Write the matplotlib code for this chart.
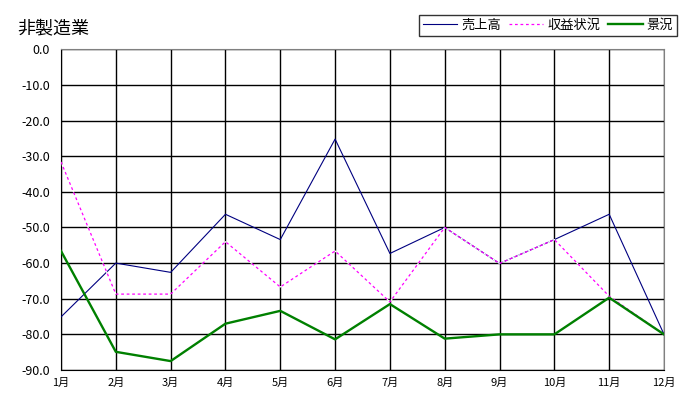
import matplotlib
matplotlib.use("Agg")
import matplotlib.pyplot as plt

plt.rcParams['font.family'] = ['Noto Sans CJK JP', 'DejaVu Sans']
plt.rcParams['axes.unicode_minus'] = False

# データ
months = ['1月', '2月', '3月', '4月', '5月', '6月', '7月', '8月', '9月', '10月', '11月', '12月']
uriage = [-75.1, -60.0, -62.6, -46.3, -53.4, -25.2, -57.3, -50.0, -60.1, -53.4, -46.3, -80.0]
shueki = [-31.6, -68.7, -68.7, -54.0, -66.7, -56.6, -70.9, -50.0, -60.1, -53.4, -69.3, -80.0]
keikyo = [-56.6, -84.9, -87.5, -77.0, -73.4, -81.4, -71.5, -81.2, -80.0, -80.0, -69.7, -80.0]
yticks = [0, -10, -20, -30, -40, -50, -60, -70, -80, -90]

fig = plt.figure(figsize=(6.9, 4.08), dpi=100)
ax = fig.add_axes([61/690, 1-370/408, (664-61)/690, (370-49.3)/408])

x = range(len(months))
ax.plot(x, uriage, color='#000080', lw=0.8, label='売上高', zorder=3)
ax.plot(x, shueki, color='#ff00ff', lw=0.9, ls=(0, (2.2, 2.2)), gapcolor='white',
        label='収益状況', zorder=4)
ax.plot(x, keikyo, color='#008000', lw=1.7, label='景況', zorder=5)

ax.set_xlim(0, len(months)-1)
ax.set_ylim(-90, 0)
ax.set_xticks(list(x))
ax.set_xticklabels(months, fontsize=8)
ax.set_yticks(yticks)
ax.set_yticklabels([f'{v:.1f}' for v in yticks], fontsize=9)
ax.tick_params(length=0, pad=8)
ax.tick_params(axis='x', pad=6)
ax.grid(True, color='black', lw=1.0, zorder=1)
ax.set_axisbelow(True)
for s in ['top', 'right']:
    ax.spines[s].set_color('#808080')
for s in ['left', 'bottom']:
    ax.spines[s].set_color('black')

fig.text(17/690, 1-28/408, '非製造業', fontsize=13, va='center', ha='left')

leg = fig.legend(loc='upper right', bbox_to_anchor=(677/690, 1-15/408), ncol=3,
                 fontsize=9.5, frameon=True, fancybox=False, handlelength=2.6,
                 handletextpad=0.3, columnspacing=0.6, borderpad=0.3,
                 borderaxespad=0)
leg.get_frame().set_edgecolor('black')
leg.get_frame().set_linewidth(1.0)

fig.savefig('out.png', dpi=100)
